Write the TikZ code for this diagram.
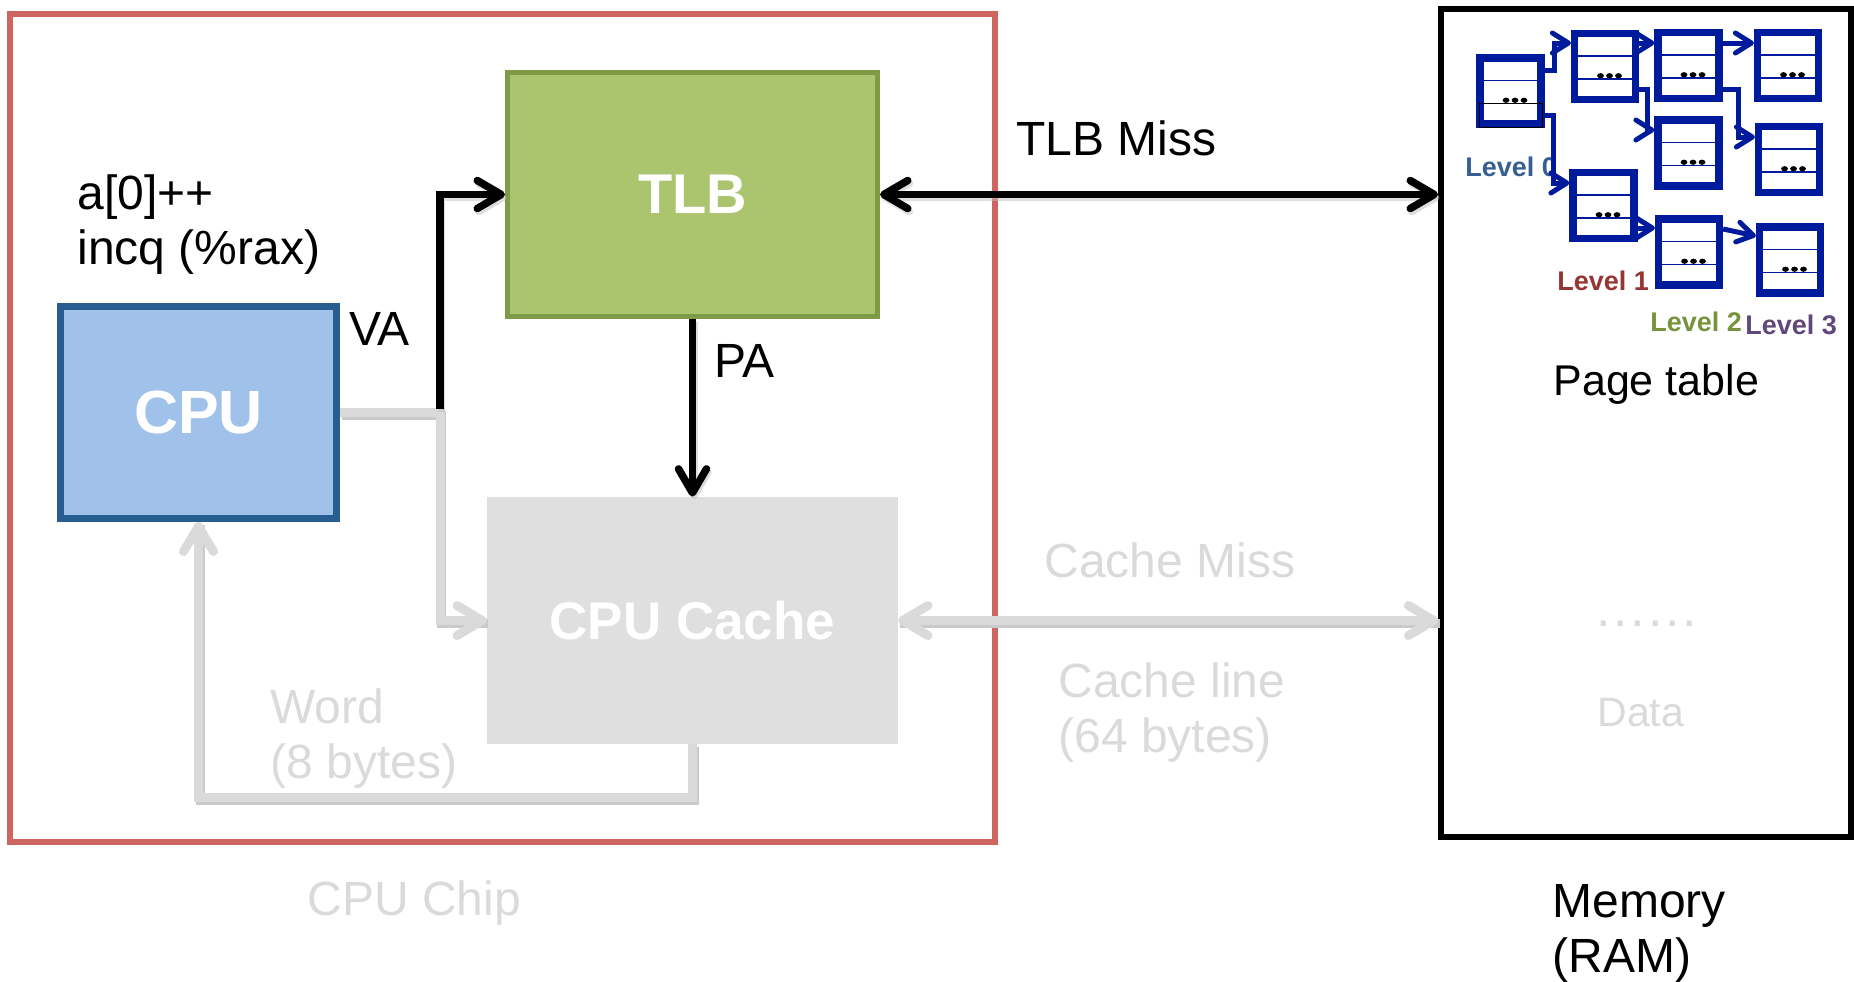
\documentclass[tikz,border=0pt]{standalone}
\usepackage{fontspec}
\setmainfont{Liberation Sans}
\usetikzlibrary{arrows.meta,calc}

\definecolor{chipred}{RGB}{205,102,96}
\definecolor{tlbfill}{RGB}{171,196,110}
\definecolor{tlbedge}{RGB}{128,155,72}
\definecolor{cpufill}{RGB}{160,194,234}
\definecolor{cpuedge}{RGB}{40,93,145}
\definecolor{cachefill}{RGB}{223,223,223}
\definecolor{faint}{RGB}{218,218,218}
\definecolor{faintshadow}{RGB}{202,202,202}
\definecolor{inkshadow}{RGB}{190,190,190}
\definecolor{ptblue}{RGB}{0,26,156}
\definecolor{lvlzero}{RGB}{54,96,146}
\definecolor{lvlone}{RGB}{150,54,52}
\definecolor{lvltwo}{RGB}{119,147,60}
\definecolor{lvlthree}{RGB}{96,73,122}

\newcommand{\spaceddots}{.\kern1.4pt.\kern1.4pt.\kern1.4pt.\kern1.4pt.\kern1.4pt.}

\begin{document}
\begin{tikzpicture}[x=0.5pt,y=-0.5pt,
  txt/.style={inner sep=0pt, anchor=base west, font=\fontsize{24}{28}\selectfont},
  lvl/.style={inner sep=0pt, anchor=base west, font=\fontsize{13.5}{16}\selectfont\bfseries},
  boxlbl/.style={text=white, inner sep=0pt},
  blacktip/.tip={Straight Barb[length=12pt,width=14pt,round]},
  graytip/.tip={Straight Barb[length=12.5pt,width=15pt,round]},
  bluetip/.tip={Straight Barb[length=8pt,width=10pt,round]},
  blackarrow/.style={draw=black, line width=3.75pt},
  blackshade/.style={draw=inkshadow, line width=3.75pt, opacity=0.5},
  grayarrow/.style={draw=faint, line width=4.5pt},
  grayshade/.style={draw=faintshadow, line width=4.5pt},
  bluearrow/.style={draw=ptblue, line width=2.5pt, -bluetip},
  ptab/.style={draw=ptblue, line width=3.6pt, fill=white, inner sep=0pt,
    minimum width=30.5pt, minimum height=33pt,
    path picture={
      \draw[ptblue, line width=0.6pt]
        ($(path picture bounding box.north west)!0.34!(path picture bounding box.south west)$) --
        ($(path picture bounding box.north east)!0.34!(path picture bounding box.south east)$);
      \draw[ptblue, line width=0.6pt]
        ($(path picture bounding box.north west)!0.69!(path picture bounding box.south west)$) --
        ($(path picture bounding box.north east)!0.69!(path picture bounding box.south east)$);
      \foreach \dx in {-2.25,2.25,6.75}
        \fill[black] ([xshift=\dx pt]$(path picture bounding box.north)!0.64!(path picture bounding box.south)$)
          ellipse [x radius=1.7pt, y radius=1.3pt];
    }},
]
\useasboundingbox (0,0) rectangle (1854,981);

% chip outline and memory
\node[draw=chipred, line width=3pt, minimum width=492.5pt, minimum height=414pt, inner sep=0pt]
  (chip) at (502.5,428) {};
\node[draw=black, line width=3pt, minimum width=205pt, minimum height=414pt, inner sep=0pt]
  (mem) at (1646,423) {};

% functional blocks
\node[draw=tlbedge, fill=tlbfill, line width=2.5pt, minimum width=185pt, minimum height=122pt,
  inner sep=0pt, boxlbl, font=\fontsize{28}{31}\selectfont\bfseries] (tlb) at (692.5,194.5) {TLB};
\node[draw=cpuedge, fill=cpufill, line width=3.5pt, minimum width=138pt, minimum height=106pt,
  inner sep=0pt, boxlbl, font=\fontsize{30.5}{34}\selectfont\bfseries] (cpu) at (198.5,412.5) {CPU};
\node[fill=cachefill, minimum width=205.5pt, minimum height=123.5pt,
  inner sep=0pt, boxlbl, font=\fontsize{26.5}{30}\selectfont\bfseries] (cache) at (692.5,620.5) {CPU Cache};

\coordinate (split) at (440,412.5);
\coordinate (splittop) at (440,409);

% faint data paths, with a soft shadow underneath
\begin{scope}[transform canvas={shift={(0.8pt,-1.5pt)}}]
  \draw[grayshade] (cpu.east) -- (split) |- (cache.west);
  \draw[grayshade] (cache.east) -- (cache.east -| mem.west);
  \draw[grayshade] (cache.south) -- ++(0,53) -| (cpu.south);
\end{scope}
\draw[grayarrow, -graytip] (cpu.east) -- (split) |- (cache.west);
\draw[grayarrow, graytip-graytip] (cache.east) -- (cache.east -| mem.west);
\draw[grayarrow, -graytip] (cache.south) -- ++(0,53) -| (cpu.south);

% translation paths
\begin{scope}[transform canvas={shift={(0.8pt,-1.5pt)}}]
  \draw[blackshade, -blacktip] (splittop) |- (tlb.west);
  \draw[blackshade, -blacktip] (tlb.south) -- (cache.north);
  \draw[blackshade, blacktip-blacktip] (tlb.east) -- (tlb.east -| mem.west);
\end{scope}
\draw[blackarrow, -blacktip] (splittop) |- (tlb.west);
\draw[blackarrow, -blacktip] (tlb.south) -- (cache.north);
\draw[blackarrow, blacktip-blacktip] (tlb.east) -- (tlb.east -| mem.west);

% labels
\node[txt] (codeA) at (77,209) {a[0]++};
\node[txt] (codeB) at (77,264) {incq (\%rax)};
\node[txt] (va) at (349,345) {VA};
\node[txt] (pa) at (714,377) {PA};
\node[txt] (tlbmiss) at (1016,155) {TLB Miss};
\node[txt, text=faint] (cmiss) at (1044,577) {Cache Miss};
\node[txt, text=faint] (cline) at (1058,697) {Cache line};
\node[txt, text=faint] (cbytes) at (1058,752) {(64 bytes)};
\node[txt, text=faint] (word) at (270,723) {Word};
\node[txt, text=faint] (wbytes) at (270,778) {(8 bytes)};
\node[txt, text=faint] (chiplbl) at (307,915) {CPU Chip};
\node[txt] (memA) at (1552,917) {Memory};
\node[txt] (memB) at (1552,972) {(RAM)};
\node[txt, font=\fontsize{21.5}{25}\selectfont] (ptlbl) at (1553,395) {Page table};
\node[txt, text=faint, font=\fontsize{26}{30}\selectfont] (dots) at (1596,626) {\spaceddots};
\node[txt, text=faint, font=\fontsize{20.5}{24}\selectfont] (data) at (1597,726) {Data};

% multi-level page table
\node[ptab] (t0)  at (1510.5,91) {};
\node[ptab] (t1a) at (1605,66.5) {};
\node[ptab] (t2a) at (1688.5,65.5) {};
\node[ptab] (t3a) at (1788,65.5) {};
\node[ptab] (t2b) at (1688.5,153) {};
\node[ptab] (t3b) at (1789,159.5) {};
\node[ptab] (t1b) at (1603.5,205.5) {};
\node[ptab] (t2c) at (1689,252) {};
\node[ptab] (t3c) at (1790,260) {};
\draw[black, line width=0.6pt] ($(t0.south west)+(3,0)$) rectangle ($(t0.south east)+(-2,-24)$);

\node[lvl, text=lvlzero]  (l0) at (1465,176) {Level 0};
\node[lvl, text=lvlone]   (l1) at (1557,290) {Level 1};
\node[lvl, text=lvltwo]   (l2) at (1650,331) {Level 2};
\node[lvl, text=lvlthree] (l3) at (1745,334) {Level 3};

\draw[bluearrow] ($(t0.east)+(0,-21)$) -- ++(10,0) |- ($(t1a.west)+(0,-23.5)$);
\draw[bluearrow] ($(t0.east)+(0,24)$) -- ++(9,0) |- ($(t1b.west)+(0,-22.5)$);
\draw[bluearrow] ($(t1a.east)+(0,-23.5)$) -- ($(t2a.west)+(0,-22.5)$);
\draw[bluearrow] ($(t1a.east)+(0,22.5)$) -- ++(8,0) |- ($(t2b.west)+(0,-23)$);
\draw[bluearrow] ($(t2a.east)+(0,-22.5)$) -- ($(t3a.west)+(0,-22.5)$);
\draw[bluearrow] ($(t2a.east)+(0,23.5)$) -- ++(16,0) |- ($(t3b.west)+(0,-22.5)$);
\draw[bluearrow] ($(t1b.east)+(0,22.5)$) -- ($(t2c.west)+(0,-24)$);
\draw[bluearrow] ($(t2c.east)+(0,-23)$) -- ($(t3c.west)+(0,-24)$);
\end{tikzpicture}
\end{document}
